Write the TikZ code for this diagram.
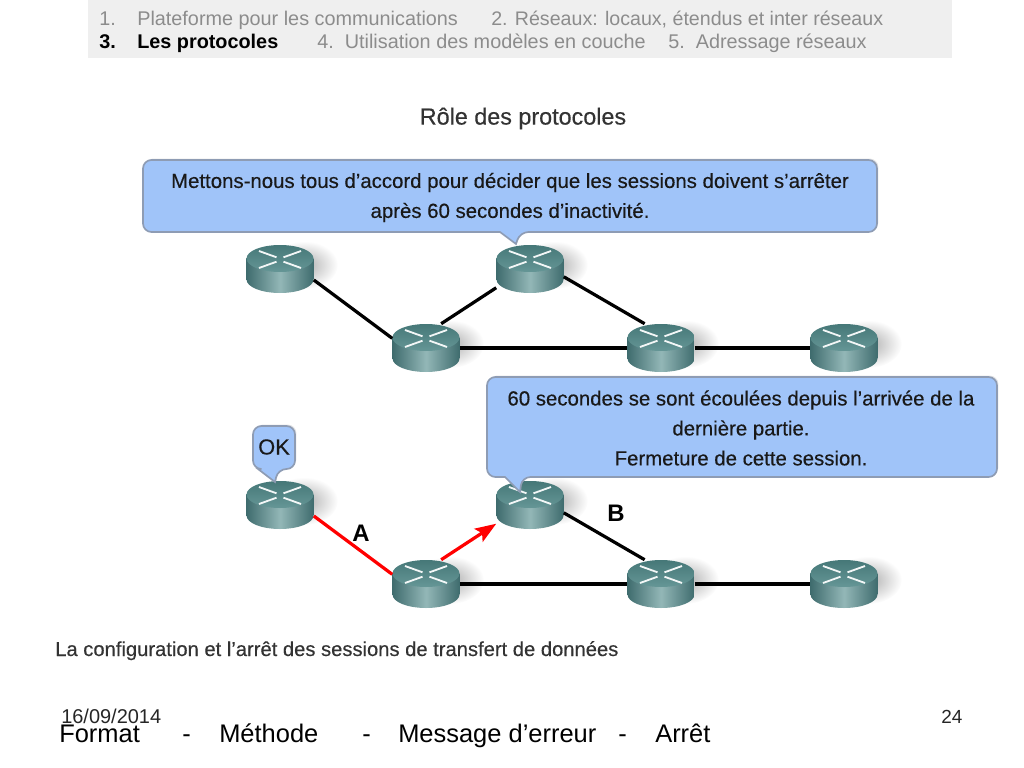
\documentclass[tikz,border=0pt]{standalone}
\usepackage{xcolor}
\usepackage{fontspec}
\setmainfont{Liberation Sans}
\newfontfamily\semibold[FakeBold=0.35]{Liberation Sans}
\usetikzlibrary{arrows.meta,positioning,calc,shadows}
\definecolor{barfill}{HTML}{EFEFEF}
\definecolor{bartext}{HTML}{8C8C8C}
\definecolor{bubblefill}{HTML}{A0C4F9}
\definecolor{bubbleline}{HTML}{8E9CB4}
\definecolor{routerdark}{HTML}{3F6C6E}
\definecolor{routermid}{HTML}{93B7B7}
\definecolor{routertop}{HTML}{659696}
\definecolor{routerface}{HTML}{467878}
\newcommand{\routerart}{%
  \begin{scope}[shift={(path picture bounding box.center)}]
    \path[left color=routerdark,right color=routerdark,middle color=routermid]
      (-33.5,-10.5) -- (-33.5,10.5) arc (180:0:33.5 and 13.5) -- (33.5,-10.5) -- cycle;
    % y axis runs downwards here, so the shading is turned round
    \path[top color=routerface,bottom color=routertop] (0,-10.5) ellipse (33.5 and 13.5);
    \foreach \sx/\sy in {-1/-1,1/-1,-1/1,1/1} {
      \draw[white!92!routertop,line width=1.3pt] (\sx*3.5,-9.5+\sy*2.2) -- (\sx*21,-9.5+\sy*8.5);
    }
  \end{scope}}
\tikzset{
  routerbox/.style={rectangle,inner sep=0pt,minimum width=1.675cm,minimum height=1.2cm,
    path picture={\routerart}},
  routershadow/.style={inner color=black!32,outer color=white},
  link/.style={line width=2.3pt,black},
  redlink/.style={line width=2.3pt,red},
  bubble/.style={fill=bubblefill,draw=bubbleline,line width=1.2pt,
    drop shadow={opacity=.2,shadow xshift=1pt,shadow yshift=1pt}},
  bubbletext/.style={align=center,inner sep=0pt,text=black!90,
    font=\fontsize{14.5}{21.3}\semibold},
  bartxt/.style={anchor=base west,inner sep=0pt,text=bartext,font=\fontsize{14.1}{16}\selectfont},
  barbold/.style={anchor=base west,inner sep=0pt,font=\fontsize{14.1}{16}\selectfont\bfseries},
  foottxt/.style={anchor=base west,inner sep=0pt,font=\fontsize{18.1}{21}\selectfont},
  linklabel/.style={inner sep=0pt,font=\fontsize{17}{19}\selectfont\bfseries}
}
\begin{document}
\begin{tikzpicture}[x=0.025cm,y=-0.025cm]
\useasboundingbox (0,0) rectangle (1024,768);
% header bar
\fill[barfill] (88,0) rectangle (952,58);
\node[bartxt] (num1) at (99,25.5) {1.};
\node[bartxt] (top1) at (137,25.5) {Plateforme pour les communications};
\node[bartxt,font=\fontsize{13.95}{16}\selectfont] (top2) at (491,25.5) {2. Réseaux: locaux, étendus et inter réseaux};
\node[barbold] (num3) at (99,48.5) {3.};
\node[barbold] (top3) at (137,48.5) {Les protocoles};
\node[bartxt] (top4) at (317,48.5) {4.\ \ Utilisation des modèles en couche};
\node[bartxt] (top5) at (668,48.5) {5.\ \ Adressage réseaux};
\node[inner sep=0pt,text=black!80,font=\fontsize{16.6}{19}\semibold] (title) at (523,118.5) {Rôle des protocoles};
% routers
\foreach \name/\x/\y in {r1/280/269,r2/426/348,r3/530/269,r4/661/348,r5/844/348,
                         b1/280/505,b2/426/584,b3/530/505,b4/661/584,b5/844/584} {
  \shade[routershadow] (\x+24,\y-4) ellipse (34 and 24);
  \node[routerbox] (\name) at (\x,\y) {};
}
% top network
\draw[link] (r1.-18) -- (r2.164);
\draw[link] (r2.58) -- (r3.209);
\draw[link] (r3.-13) -- (r4.124);
\draw[link] (r2.east) -- (r4.west);
\draw[link] (r4.east) -- (r5.west);
% bottom network
\draw[redlink] (b1.-18) -- (b2.164);
\draw[redlink,-{Stealth[length=15pt,width=11pt,inset=3pt]}] (b2.58) -- (b3.209);
\draw[link] (b3.-13) -- (b4.124);
\draw[link] (b2.east) -- (b4.west);
\draw[link] (b4.east) -- (b5.west);
\node[linklabel] (labela) at (361,533) {A};
\node[linklabel] (labelb) at (616,513) {B};
% bubbles
\draw[bubble,rounded corners=6] (143,160) -- (877,160) -- (877,232) -- (520,232)
  [sharp corners] -- (516,244) -- (500,232) [rounded corners=6] -- (143,232) -- cycle;
\node[bubbletext] (msg1) at (510,197.5) {Mettons-nous tous d’accord pour décider que les sessions doivent s’arrêter\\après 60 secondes d’inactivité.};
\draw[bubble,rounded corners=6] (487,377) -- (997,377) -- (997,477) -- (522,477)
  [sharp corners] -- (520,492) -- (505,477) [rounded corners=6] -- (487,477) -- cycle;
\node[bubbletext] (msg2) at (741,428) {60 secondes se sont écoulées depuis l’arrivée de la\\dernière partie.\\Fermeture de cette session.};
\draw[bubble,rounded corners=6] (253,426) -- (295,426) -- (295,469) -- (278,469)
  [sharp corners] -- (275,482) -- (258,469) [rounded corners=6] -- (253,469) -- cycle;
\node[bubbletext,font=\fontsize{15.5}{18}\semibold] (okmsg) at (274,447) {OK};
% caption and footer
\node[anchor=base west,inner sep=0pt,text=black!80,font=\fontsize{14.35}{17}\semibold] (caption) at (55,656) {La configuration et l’arrêt des sessions de transfert de données};
\node[anchor=base west,inner sep=0pt,text=black!85,font=\fontsize{14.2}{17}\selectfont] (date) at (61,723) {16/09/2014};
\node[anchor=base west,inner sep=0pt,text=black!85,font=\fontsize{13.5}{17}\selectfont] (page) at (941,723) {24};
\node[foottxt] (fmt) at (59,742) {Format};
\node[foottxt] (dash1) at (182,742) {-};
\node[foottxt] (meth) at (219,742) {Méthode};
\node[foottxt] (dash2) at (362,742) {-};
\node[foottxt] (errmsg) at (398,742) {Message d’erreur};
\node[foottxt] (dash3) at (618,742) {-};
\node[foottxt] (stop) at (655,742) {Arrêt};
\end{tikzpicture}
\end{document}
